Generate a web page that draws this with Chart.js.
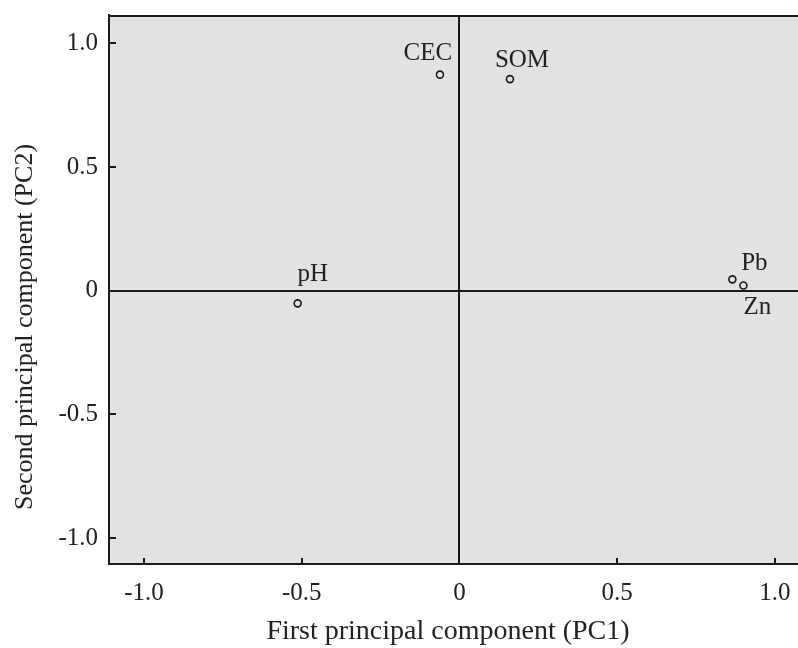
<!DOCTYPE html>
<html><head><meta charset="utf-8">
<script src="https://cdn.jsdelivr.net/npm/chart.js@4/dist/chart.umd.min.js"></script>
<style>html,body{margin:0;padding:0;background:#fff}canvas{display:block}</style>
</head><body>
<canvas id="c" width="798" height="648"></canvas>
<script>
const variables = ['CEC', 'SOM', 'pH', 'Pb', 'Zn'];
const pc1 = [-0.062, 0.160, -0.513, 0.865, 0.900];
const pc2 = [0.873, 0.855, -0.051, 0.046, 0.021];
const xTicks = [-1.0, -0.5, 0, 0.5, 1.0];
const yTicks = [-1.0, -0.5, 0, 0.5, 1.0];
const xTitle = 'First principal component (PC1)';
const yTitle = 'Second principal component (PC2)';

const FONT = "'Liberation Serif', 'Times New Roman', serif";
const INK = '#1a1a1a';
Chart.defaults.font.family = FONT;
Chart.defaults.color = '#222';

const fmt = v => (v === 0 ? '0' : v.toFixed(1));

const decor = {
  id: 'decor',
  beforeDraw(chart) {
    const {ctx, chartArea: a} = chart;
    ctx.save();
    ctx.fillStyle = '#e2e2e2';
    ctx.fillRect(a.left, a.top, a.right - a.left, a.bottom - a.top);
    ctx.restore();
  },
  afterDraw(chart) {
    const {ctx, chartArea: a, scales} = chart;
    ctx.save();
    ctx.strokeStyle = INK;
    ctx.lineWidth = 2;
    // top border
    ctx.beginPath();
    ctx.moveTo(a.left, a.top + 1);
    ctx.lineTo(a.right, a.top + 1);
    ctx.stroke();
    // inward tick marks
    xTicks.forEach(v => {
      const x = Math.round(scales.x.getPixelForValue(v));
      ctx.beginPath();
      ctx.moveTo(x, a.bottom);
      ctx.lineTo(x, a.bottom - 6);
      ctx.stroke();
    });
    yTicks.forEach(v => {
      const y = Math.round(scales.y.getPixelForValue(v));
      ctx.beginPath();
      ctx.moveTo(a.left, y);
      ctx.lineTo(a.left + 7, y);
      ctx.stroke();
    });
    // point labels
    const offs = [[-12, -15], [12, -12], [15, -22], [22, -9], [14, 28]];
    const meta = chart.getDatasetMeta(0);
    ctx.fillStyle = '#222';
    ctx.font = "25px " + FONT;
    ctx.textAlign = 'center';
    ctx.textBaseline = 'alphabetic';
    meta.data.forEach((pt, i) => {
      ctx.fillText(variables[i], pt.x + offs[i][0], pt.y + offs[i][1]);
    });
    // axis titles
    ctx.font = "28px " + FONT;
    ctx.textBaseline = 'middle';
    ctx.fillText(xTitle, 448, 632);
    ctx.font = "26px " + FONT;
    ctx.translate(25, 327);
    ctx.rotate(-Math.PI / 2);
    ctx.fillText(yTitle, 0, 0);
    ctx.restore();
  }
};

new Chart(document.getElementById('c'), {
  type: 'scatter',
  data: {
    datasets: [{
      data: pc1.map((x, i) => ({x, y: pc2[i]})),
      pointRadius: 3.5,
      pointHoverRadius: 3.5,
      borderWidth: 1.6,
      borderColor: INK,
      backgroundColor: 'rgba(0,0,0,0)'
    }]
  },
  options: {
    responsive: false,
    animation: false,
    devicePixelRatio: 1,
    events: [],
    layout: {autoPadding: false, padding: {top: 15, right: 0, bottom: 0, left: 0}},
    plugins: {legend: {display: false}, tooltip: {enabled: false}},
    scales: {
      x: {
        type: 'linear',
        min: -1.111, max: 1.073,
        afterBuildTicks: s => { s.ticks = xTicks.map(v => ({value: v})); },
        afterFit: s => { s.height = 84; s.paddingLeft = 0; s.paddingRight = 0; },
        ticks: {callback: v => fmt(v), font: {size: 25}, color: '#222', padding: 14, maxRotation: 0},
        grid: {drawTicks: false, lineWidth: 2, color: c => (c.tick && c.tick.value === 0 ? INK : 'rgba(0,0,0,0)')},
        border: {display: true, color: INK, width: 2}
      },
      y: {
        type: 'linear',
        min: -1.104, max: 1.114,
        afterBuildTicks: s => { s.ticks = yTicks.map(v => ({value: v})); },
        afterFit: s => { s.width = 109; s.paddingTop = 0; s.paddingBottom = 0; },
        ticks: {callback: v => fmt(v), font: {size: 25}, color: '#222', padding: 11},
        grid: {drawTicks: false, lineWidth: 2, color: c => (c.tick && c.tick.value === 0 ? INK : 'rgba(0,0,0,0)')},
        border: {display: true, color: INK, width: 2}
      }
    }
  },
  plugins: [decor]
});
</script>
</body></html>
